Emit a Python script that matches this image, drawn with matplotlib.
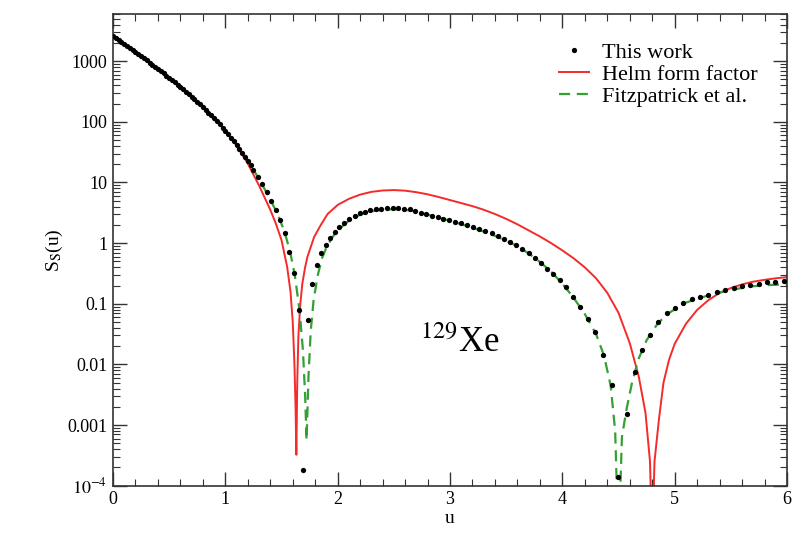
import numpy as np
import matplotlib
matplotlib.use("Agg")
from matplotlib import pyplot as plt
from matplotlib.ticker import FixedLocator, LogLocator, MultipleLocator, NullFormatter

plt.rcParams['font.family'] = ['Liberation Serif', 'DejaVu Serif']
plt.rcParams['mathtext.fontset'] = 'stix'

# "This work": u and log10 S_S(u)
this_work_u = [0.000, 0.025, 0.050, 0.075, 0.100, 0.125, 0.150, 0.175, 0.200, 0.225,
               0.250, 0.275, 0.300, 0.325, 0.350, 0.375, 0.400, 0.425, 0.450, 0.475,
               0.500, 0.525, 0.550, 0.575, 0.600, 0.625, 0.650, 0.675, 0.700, 0.725,
               0.750, 0.775, 0.800, 0.825, 0.850, 0.875, 0.900, 0.925, 0.950, 0.975,
               1.000, 1.025, 1.050, 1.075, 1.100, 1.125, 1.150, 1.175, 1.200, 1.225, 1.250,
               1.29, 1.33, 1.37, 1.41, 1.45, 1.49, 1.53, 1.57, 1.61, 1.655, 1.695, 1.735,
               1.775, 1.815, 1.855, 1.895, 1.935, 1.975, 2.015, 2.06, 2.105, 2.15, 2.195,
               2.24, 2.29, 2.34, 2.39, 2.44, 2.49, 2.54, 2.59, 2.64, 2.69, 2.74, 2.79,
               2.84, 2.89, 2.94, 2.99, 3.04, 3.095, 3.15, 3.205, 3.26, 3.315, 3.37, 3.425,
               3.48, 3.535, 3.59, 3.645, 3.70, 3.755, 3.81, 3.865, 3.92, 3.975, 4.03,
               4.095, 4.16, 4.225, 4.29, 4.363, 4.438, 4.497, 4.571, 4.646, 4.705, 4.78,
               4.854, 4.929, 5.003, 5.078, 5.152, 5.226, 5.30, 5.375, 5.449, 5.524, 5.598,
               5.672, 5.747, 5.821, 5.896, 5.97]
this_work_log = [3.413, 3.380, 3.348, 3.316, 3.283, 3.250, 3.217, 3.184, 3.150, 3.116,
                 3.082, 3.048, 3.013, 2.978, 2.943, 2.907, 2.871, 2.835, 2.799, 2.762,
                 2.725, 2.688, 2.650, 2.612, 2.573, 2.534, 2.494, 2.454, 2.413, 2.372,
                 2.330, 2.287, 2.243, 2.198, 2.152, 2.105, 2.057, 2.008, 1.957, 1.905,
                 1.851, 1.796, 1.740, 1.682, 1.622, 1.559, 1.494, 1.427, 1.357, 1.284, 1.207,
                 1.09, 0.97, 0.84, 0.70, 0.55, 0.38, 0.16, -0.14, -0.50, -1.10, -3.74, -1.27,
                 -0.68, -0.36, -0.17, -0.03, 0.08, 0.18, 0.27, 0.34, 0.40, 0.45, 0.49,
                 0.52, 0.545, 0.56, 0.57, 0.575, 0.577, 0.575, 0.568, 0.557, 0.53, 0.505, 0.48,
                 0.455, 0.43, 0.405, 0.38, 0.355, 0.325, 0.295, 0.265, 0.235, 0.20, 0.16, 0.115,
                 0.07, 0.025, -0.025, -0.09, -0.16, -0.24, -0.33, -0.43, -0.51, -0.60, -0.72,
                 -0.88, -1.06, -1.25, -1.46, -1.85, -2.34, -3.85, -2.81, -2.12, -1.76, -1.52,
                 -1.30, -1.16, -1.067, -0.995, -0.929, -0.886, -0.847, -0.814, -0.776, -0.738, -0.71,
                 -0.689, -0.666, -0.649, -0.639, -0.628]

# Helm form factor
helm_u = [0.0, 0.1, 0.2, 0.3, 0.4, 0.5, 0.6, 0.7, 0.8, 0.9, 1.0, 1.1, 1.2, 1.3, 1.4,
          1.45, 1.5, 1.55, 1.58, 1.60, 1.615, 1.625, 1.632, 1.64, 1.65, 1.665, 1.685,
          1.71, 1.73, 1.79, 1.85, 1.91, 2.0, 2.1, 2.2, 2.3, 2.4, 2.5, 2.6, 2.7, 2.8,
          2.9, 3.0, 3.1, 3.2, 3.3, 3.4, 3.5, 3.6, 3.7, 3.8, 3.9, 4.0, 4.1, 4.2, 4.3,
          4.4, 4.5, 4.6, 4.68, 4.74, 4.78, 4.80, 4.82, 4.86, 4.9, 4.95, 5.0, 5.1, 5.2,
          5.3, 5.4, 5.5, 5.6, 5.7, 5.8, 5.9, 6.0]
helm_log = [3.413, 3.283, 3.150, 3.013, 2.871, 2.725, 2.573, 2.413, 2.243, 2.057, 1.851,
            1.61, 1.31, 0.95, 0.55, 0.32, 0.05, -0.39, -0.8, -1.3, -2.0, -2.7, -3.49,
            -2.3, -1.55, -1.05, -0.67, -0.4, -0.23, 0.1, 0.3, 0.48, 0.63, 0.73, 0.80,
            0.845, 0.868, 0.875, 0.865, 0.84, 0.805, 0.76, 0.71, 0.66, 0.61, 0.55, 0.48,
            0.40, 0.31, 0.21, 0.11, 0.0, -0.12, -0.25, -0.40, -0.58, -0.82, -1.15, -1.65,
            -2.2, -2.8, -3.6, -5.0, -3.6, -2.9, -2.3, -1.92, -1.66, -1.33, -1.10, -0.94,
            -0.82, -0.74, -0.68, -0.635, -0.605, -0.58, -0.56]

# Fitzpatrick et al.
fitz_u = [0.0, 0.25, 0.5, 0.75, 1.0, 1.1, 1.2, 1.3, 1.4, 1.47, 1.53, 1.58, 1.62, 1.66,
          1.69, 1.71, 1.723, 1.74, 1.76, 1.785, 1.82, 1.86, 1.9, 1.95, 2.0, 2.1, 2.2,
          2.3, 2.4, 2.5, 2.6, 2.7, 2.8, 2.9, 3.0, 3.1, 3.2, 3.3, 3.4, 3.5, 3.6, 3.7,
          3.8, 3.9, 4.0, 4.1, 4.2, 4.3, 4.37, 4.43, 4.47, 4.5, 4.53, 4.57, 4.62, 4.68,
          4.75, 4.85, 4.95, 5.1, 5.3, 5.5, 5.7, 5.85, 6.0]
fitz_log = [3.413, 3.082, 2.725, 2.33, 1.851, 1.622, 1.357, 1.06, 0.72, 0.46, 0.17,
            -0.17, -0.55, -1.1, -1.75, -2.5, -3.25, -2.2, -1.45, -0.95, -0.55, -0.25,
            -0.07, 0.09, 0.21, 0.37, 0.47, 0.525, 0.55, 0.56, 0.55, 0.52, 0.47, 0.42,
            0.37, 0.31, 0.255, 0.19, 0.12, 0.04, -0.05, -0.17, -0.31, -0.47, -0.67, -0.9,
            -1.17, -1.5, -1.85, -2.35, -3.1, -5.0, -3.2, -2.75, -2.3, -1.9, -1.6, -1.32,
            -1.15, -0.98, -0.86, -0.77, -0.71, -0.69, -0.68]

ytick_vals = [1e-4, 1e-3, 1e-2, 1e-1, 1, 10, 100, 1000]
ytick_labels = [r'$10^{-4}$', '0.001', '0.01', '0.1', '1', '10', '100', '1000']

fig = plt.figure(figsize=(7.93, 5.34), dpi=100)
ax = fig.add_axes([0.1425, 0.0904, 0.85, 0.8834])

ax.plot(this_work_u, np.power(10.0, this_work_log), 'o', color='black', ms=3.8,
        mew=0, label='This work', zorder=3)
ax.plot(helm_u, np.power(10.0, helm_log), '-', color='#f52a2a', lw=1.4,
        label='Helm form factor', zorder=2)
ax.plot(fitz_u, np.power(10.0, fitz_log), '--', color='#33a033', lw=1.6,
        dashes=(5, 3), label='Fitzpatrick et al.', zorder=2)

ax.set_yscale('log')
ax.set_xlim(0, 6)
ax.set_ylim(1e-4, 6000)

ax.xaxis.set_major_locator(MultipleLocator(1))
ax.xaxis.set_minor_locator(MultipleLocator(0.2))
ax.yaxis.set_major_locator(FixedLocator(ytick_vals))
ax.set_yticklabels(ytick_labels)
ax.yaxis.set_minor_locator(LogLocator(base=10, subs=np.arange(2, 10), numticks=20))
ax.yaxis.set_minor_formatter(NullFormatter())

ax.tick_params(which='both', direction='in', top=True, right=True,
               labelsize=13, colors='#333333', labelcolor='black')
ax.tick_params(which='major', length=10, width=1)
ax.tick_params(which='minor', length=5, width=0.8)
ax.tick_params(axis='x', pad=4)
ax.tick_params(axis='y', pad=4)
for sp in ax.spines.values():
    sp.set_color('#333333')
    sp.set_linewidth(1.2)

ax.set_xlabel('u', fontsize=14, labelpad=1)
ax.set_ylabel(r'S$_{\mathrm{S}}$(u)', fontsize=14, labelpad=2)

ax.text(2.73, 0.016, r'$^{129}$Xe', fontsize=25)

ax.legend(loc='upper left', bbox_to_anchor=(0.648, 0.958), frameon=False,
          fontsize=16, handlelength=1.35, handletextpad=0.6, labelspacing=0.05,
          borderaxespad=0, numpoints=1)

fig.savefig('out.png', dpi=100)
